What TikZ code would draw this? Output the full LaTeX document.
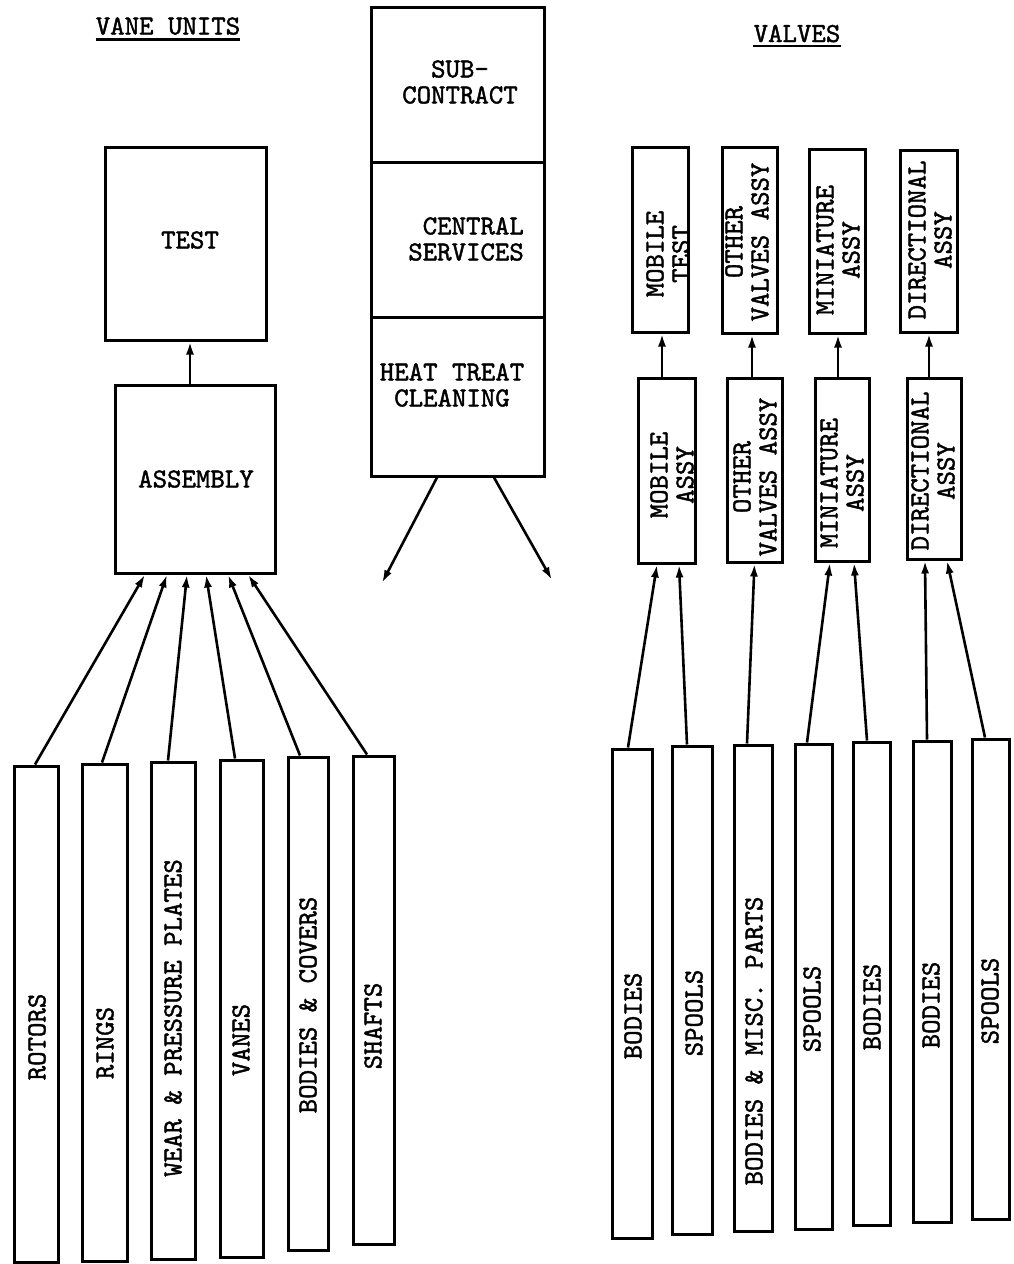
\documentclass[tikz,border=0pt]{standalone}
\usepackage{fontspec}
\usetikzlibrary{arrows.meta}
\newfontfamily\tw[FakeBold=1.5]{lmmono10-regular.otf}
\begin{document}
\begin{tikzpicture}[x=1pt,y=-1pt,
  box/.style={draw, line width=3pt, inner sep=0pt, rectangle},
  lbl/.style={font=\tw\fontsize{27.5}{26}\selectfont, inner sep=0pt, align=center},
  vlbl/.style={lbl, rotate=90},
  arr/.style={line width=2.6pt, -{Latex[length=13pt,width=8pt]}},
  uline/.style={line width=2.4pt}]
\fill[white] (0,0) rectangle (1013,1264);
\useasboundingbox (0,0) rectangle (1013,1264);

% titles
\node[lbl, anchor=base] (vt) at (168,34.5) {VANE UNITS};
\draw[uline] ([yshift=-5pt]vt.base west) -- ([yshift=-5pt]vt.base east);
\node[lbl, anchor=base] (vv) at (797,42) {VALVES};
\draw[uline] ([yshift=-4pt]vv.base west) -- ([yshift=-4pt]vv.base east);

% vane units: test and assembly
\node[box, minimum width=161pt, minimum height=193pt] (test) at (185.5,243.5) {};
\node[lbl] (testt) at (190,240) {TEST};
\node[box, minimum width=160pt, minimum height=188pt] (asm) at (195,479) {};
\node[lbl] (asmt) at (196,479) {ASSEMBLY};
\draw[arr] ([xshift=-5pt]asm.north) -- ([xshift=-5pt]asm.north |- test.south);

% central stack
\node[box, minimum width=173pt, minimum height=155pt] (sub) at (457.5,84.5) {};
\node[box, minimum width=173pt, minimum height=155pt] (cen) at (457.5,239.5) {};
\node[box, minimum width=173pt, minimum height=159pt] (heat) at (457.5,396.5) {};
\node[lbl] (subt) at (460,82) {SUB-\\CONTRACT};
\node[lbl, align=right, anchor=east] (cent) at (524,239) {CENTRAL\\SERVICES};
\node[lbl] (heatt) at (452,385) {HEAT TREAT\\CLEANING};
\coordinate (c1) at (382,583);
\coordinate (c2) at (552,580);
\draw[arr] ([xshift=-20.5pt]heat.south) -- (c1);
\draw[arr] ([xshift=36.5pt]heat.south) -- (c2);

% vane parts
\node[box, minimum width=44pt, minimum height=496pt] (rotors) at (36,1014) {};
\node[box, minimum width=45pt, minimum height=497pt] (rings) at (104.5,1012.5) {};
\node[box, minimum width=44pt, minimum height=497pt] (wear) at (173,1010.5) {};
\node[box, minimum width=43pt, minimum height=497pt] (vanes) at (241.5,1008.5) {};
\node[box, minimum width=40pt, minimum height=493pt] (bodcov) at (308,1003.5) {};
\node[box, minimum width=41pt, minimum height=488pt] (shafts) at (373.5,1000) {};
\node[vlbl] at (37,1037) {ROTORS};
\node[vlbl] at (105,1043) {RINGS};
\node[vlbl] at (173,1018) {WEAR \& PRESSURE PLATES};
\node[vlbl] at (241,1040) {VANES};
\node[vlbl] at (308,1005) {BODIES \& COVERS};
\node[vlbl] at (373,1026) {SHAFTS};
\draw[arr] ([xshift=-1pt]rotors.north) -- ([xshift=-50pt]asm.south);
\draw[arr] ([xshift=-2.5pt]rings.north) -- ([xshift=-28pt]asm.south);
\draw[arr] ([xshift=-5pt]wear.north) -- ([xshift=-8pt]asm.south);
\draw[arr] ([xshift=-6.5pt]vanes.north) -- ([xshift=11pt]asm.south);
\draw[arr] ([xshift=-8pt]bodcov.north) -- ([xshift=33pt]asm.south);
\draw[arr] ([xshift=-6.5pt]shafts.north) -- ([xshift=53pt]asm.south);

% valves: upper row
\node[box, minimum width=56pt, minimum height=185pt] (mtest) at (660,239.5) {};
\node[box, minimum width=55pt, minimum height=186pt] (otest) at (749.5,240) {};
\node[box, minimum width=56pt, minimum height=184pt] (mintest) at (837,241) {};
\node[box, minimum width=57pt, minimum height=182pt] (dirtest) at (928.5,241) {};
\node[vlbl] at (668,254) {MOBILE\\TEST};
\node[vlbl] at (747,242) {OTHER\\VALVES ASSY};
\node[vlbl] at (838,250) {MINIATURE\\ASSY};
\node[vlbl] at (930,240) {DIRECTIONAL\\ASSY};

% valves: lower row
\node[box, minimum width=57pt, minimum height=185pt] (masy) at (666.5,470.5) {};
\node[box, minimum width=55pt, minimum height=184pt] (oasy) at (754.5,470) {};
\node[box, minimum width=54pt, minimum height=183pt] (minasy) at (842,469.5) {};
\node[box, minimum width=54pt, minimum height=181pt] (dirasy) at (934,468.5) {};
\node[vlbl] at (672,475) {MOBILE\\ASSY};
\node[vlbl] at (755,477) {OTHER\\VALVES ASSY};
\node[vlbl] at (842,483) {MINIATURE\\ASSY};
\node[vlbl] at (933,471) {DIRECTIONAL\\ASSY};
\draw[arr] ([xshift=-4.5pt]masy.north) -- ([xshift=-4.5pt]masy.north |- mtest.south);
\draw[arr] ([xshift=-2.5pt]oasy.north) -- ([xshift=-2.5pt]oasy.north |- otest.south);
\draw[arr] ([xshift=-4pt]minasy.north) -- ([xshift=-4pt]minasy.north |- mintest.south);
\draw[arr] ([xshift=-5pt]dirasy.north) -- ([xshift=-5pt]dirasy.north |- dirtest.south);

% valve parts
\node[box, minimum width=40pt, minimum height=489pt] (b1) at (632,993.5) {};
\node[box, minimum width=40pt, minimum height=488pt] (s1) at (692,990) {};
\node[box, minimum width=38pt, minimum height=486pt] (bm) at (753,988) {};
\node[box, minimum width=37pt, minimum height=485pt] (s2) at (813.5,986.5) {};
\node[box, minimum width=37pt, minimum height=483pt] (b3) at (871.5,983.5) {};
\node[box, minimum width=38pt, minimum height=481pt] (b4) at (932,981.5) {};
\node[box, minimum width=37pt, minimum height=480pt] (s3) at (990.5,979) {};
\node[vlbl] at (633,1016) {BODIES};
\node[vlbl] at (694,1013) {SPOOLS};
\node[vlbl] at (754,1041) {BODIES \& MISC. PARTS};
\node[vlbl] at (812,1009) {SPOOLS};
\node[vlbl] at (872,1007) {BODIES};
\node[vlbl] at (931,1005) {BODIES};
\node[vlbl] at (990,1001) {SPOOLS};
\draw[arr] ([xshift=-4pt]b1.north) -- ([xshift=-9.5pt]masy.south);
\draw[arr] ([xshift=-5pt]s1.north) -- ([xshift=12.5pt]masy.south);
\draw[arr] ([xshift=-6pt]bm.north) -- (oasy.south);
\draw[arr] ([xshift=-6.5pt]s2.north) -- ([xshift=-12pt]minasy.south);
\draw[arr] ([xshift=-4.5pt]b3.north) -- ([xshift=12pt]minasy.south);
\draw[arr] ([xshift=-5pt]b4.north) -- ([xshift=-9pt]dirasy.south);
\draw[arr] ([xshift=-5.5pt]s3.north) -- ([xshift=13pt]dirasy.south);
\end{tikzpicture}
\end{document}
